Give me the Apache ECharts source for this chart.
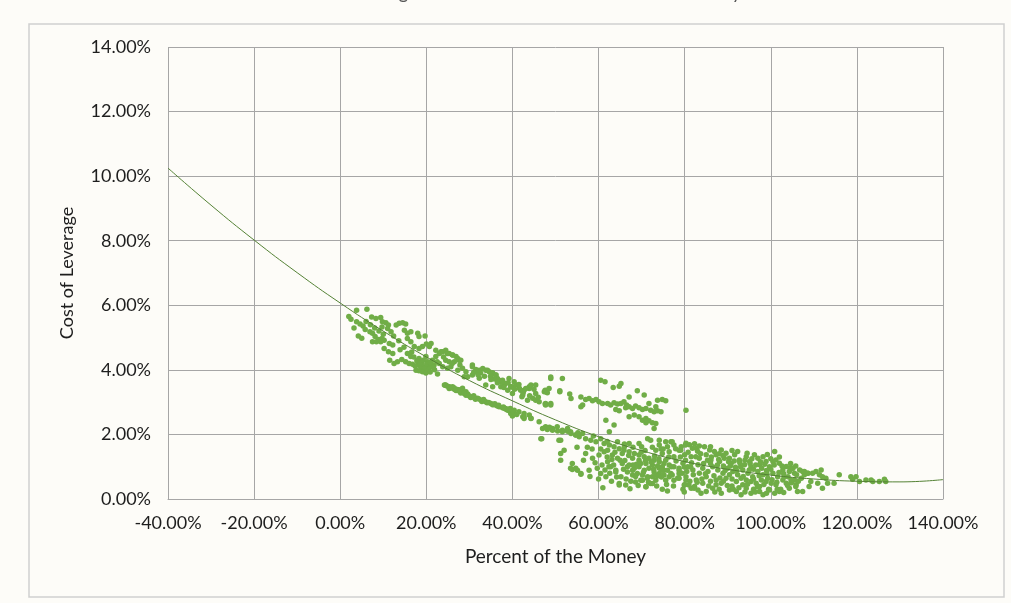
<!DOCTYPE html>
<html>
<head>
<meta charset="utf-8">
<script src="https://cdn.jsdelivr.net/npm/echarts@6/dist/echarts.min.js"></script>
<style>
  html, body { margin: 0; padding: 0; background: #fdfcf8; }
  #chart { width: 1011px; height: 603px; }
</style>
</head>
<body>
<div id="chart"></div>
<script>
// x = percent of the money, y = cost of leverage (both in %)
const xTicks = [-40, -20, 0, 20, 40, 60, 80, 100, 120, 140]
const yTicks = [0, 2, 4, 6, 8, 10, 12, 14]

// upper scatter band, 0% - 30%
const upperBand = [
  [3.8,5.85],[6.2,5.88],[2.5,5.57],[3.8,5.49],[4.6,5.42],[5.3,5.36],[5.8,5.25],[7.3,5.64],[8.3,5.59],[9.4,5.62],
  [9.8,5.49],[10.6,5.46],[11.2,5.39],[9.7,5.33],[11.0,5.28],[11.8,5.18],[13.0,5.39],[13.7,5.44],[14.5,5.46],[15.2,5.42],
  [6.9,5.18],[7.5,5.13],[8.1,5.03],[8.9,4.94],[9.7,4.97],[10.2,4.92],[7.5,4.87],[8.4,4.87],[9.4,4.87],[11.4,4.82],
  [12.2,4.77],[10.2,4.66],[11.2,4.56],[12.2,4.51],[11.5,4.30],[12.5,4.20],[13.3,4.25],[14.9,5.23],[15.6,5.13],[16.4,5.18],
  [15.6,4.97],[16.4,4.87],[18.0,5.13],[18.3,5.03],[19.7,5.05],[17.2,4.72],[18.3,4.66],[19.1,4.72],[20.0,4.80],[20.7,4.72],
  [21.1,4.82],[15.6,4.51],[16.4,4.41],[15.2,4.25],[14.3,4.32],[16.0,4.20],[16.8,4.17],[18.0,4.15],[18.7,4.10],[19.1,4.05],
  [19.5,3.99],[20.3,4.10],[20.7,4.15],[21.4,4.30],[22.2,4.41],[23.0,4.51],[22.2,4.61],[23.4,4.56],[24.5,4.61],[25.3,4.51],
  [26.1,4.46],[26.9,4.41],[24.5,4.30],[25.3,4.25],[26.5,4.25],[27.6,4.30],[25.7,4.10],[24.9,4.05],[27.3,3.99],[28.4,4.05],
  [29.2,3.94],[28.8,3.79],[22.6,3.87],[18.3,4.35],[19.9,4.41],[20.3,4.25],[17.6,3.99],[18.3,3.97],[19.1,3.94],[21.8,4.15],
  [23.0,4.20],[23.8,4.10],[19.6,4.08],[20.6,4.02],[18.9,4.19],[17.4,4.12],[23.8,4.56],[24.9,4.51],[26.1,4.46],[27.3,4.35],
  [28.0,4.30],[4.2,5.05],[5.0,4.98],[13.9,4.62],[21.9,4.00],
  [17.8,4.28],[18.6,4.22],[19.3,4.30],[20.1,4.18],[20.9,4.22],[21.6,4.08],[17.1,4.40],[19.9,3.90],[20.9,3.93],[22.5,4.25],
  [16.6,4.55],[14.8,4.70],[13.6,4.90],[12.4,5.05],[6.0,5.50],[7.0,5.40],[8.0,5.30],[9.0,5.20],[10.0,5.10],[2.0,5.65],
  [3.2,5.30],[24.0,4.40],[26.0,4.20],[27.8,4.15]
]

// middle band, 30% - 50%
const middleBand = [
  [30.7,4.10],[31.5,4.01],[32.3,3.99],[33.1,4.04],[33.8,3.99],[34.6,3.94],[35.4,3.91],[36.1,3.84],[30.7,3.84],[29.6,3.79],
  [32.3,3.74],[33.8,3.53],[35.4,3.48],[36.9,3.68],[38.1,3.53],[38.9,3.37],[39.6,3.48],[40.4,3.63],[41.6,3.43],[42.7,3.37],
  [43.9,3.48],[42.2,3.17],[43.5,3.06],[44.7,3.12],[45.4,3.27],[30.7,4.15],[34.2,3.99],[36.2,3.84],[36.5,3.73],[37.3,3.48],
  [39.6,3.48],[40.0,3.27],[42.4,3.22],[43.9,3.42],[45.4,3.06],[47.8,3.32],[48.9,3.73],[51.0,3.32],[47.6,2.94],[48.9,2.96],
  [37.7,3.68],[38.4,3.58],[39.2,3.73],[40.0,3.47],[40.8,3.53],[41.9,3.37],[43.1,3.42],[44.3,3.53],[45.4,3.53],[47.4,3.32],
  [48.5,3.42],[48.9,3.78],[51.6,3.73],[47.7,2.96],[48.9,2.91],[47.6,3.37],[48.1,3.29],[51.0,3.35],[53.3,3.25],[53.6,3.11],
  [46.2,3.01],[47.7,2.91],[31.8,3.95],[34.9,3.80],[37.6,3.62],[32.6,3.90],[35.8,3.72],
  [31.0,3.92],[32.0,3.85],[33.5,3.80],[35.0,3.70],[36.5,3.60],[38.0,3.45],[39.0,3.60],[40.5,3.40],[41.5,3.55],[42.5,3.30],
  [44.0,3.20],[45.0,3.40],[46.0,3.15]
]

// lower band, 24% - 45%
const lowerBand = [
  [24.5,3.53],[26.1,3.48],[27.2,3.39],[28.4,3.32],[29.6,3.25],[30.7,3.17],[31.9,3.12],[32.7,3.06],[33.8,3.01],[35.0,2.96],
  [36.1,2.91],[36.9,2.86],[38.1,2.81],[38.9,2.75],[39.6,2.65],[40.0,2.57],[42.7,2.55],[44.3,2.50],[24.4,3.52],[25.5,3.46],
  [26.5,3.40],[27.5,3.35],[28.4,3.43],[29.2,3.32],[25.3,3.42],[26.9,3.36],[28.0,3.28],[29.2,3.21],[30.3,3.14],[31.4,3.09],
  [32.9,3.02],[34.1,2.98],[35.4,2.92],[36.5,2.88],[37.7,2.83],[38.5,2.78],[39.5,2.80],[38.4,2.80],[39.2,2.75],[40.4,2.75],
  [41.5,2.70],[42.7,2.65],[43.9,2.60],[24.2,3.53],[25.3,3.48],[26.5,3.44],[27.6,3.38],[31.0,3.20],[33.3,3.08],[35.9,2.95],
  [42.4,2.55],[42.7,2.49],[44.3,2.49],[46.2,2.39],
  [24.8,3.50],[25.8,3.44],[26.8,3.38],[27.8,3.34],[28.8,3.27],[29.9,3.20],[31.1,3.15],[32.2,3.10],[33.3,3.05],[34.5,2.99],
  [35.6,2.93],[36.8,2.90],[37.9,2.85],[39.0,2.78],[40.2,2.70],[41.0,2.62]
]

// island around 60% - 75%, 2.2% - 3.7%
const island = [
  [55.9,3.16],[57.0,3.08],[57.8,3.11],[58.6,3.04],[59.4,3.08],[55.9,2.86],[56.3,2.91],[60.5,3.68],[61.5,3.63],[63.4,3.45],
  [64.8,3.49],[65.2,3.58],[67.1,3.16],[69.0,3.35],[70.6,3.22],[73.7,3.06],[74.8,3.08],[75.6,3.04],[60.1,3.01],[60.9,2.96],
  [62.1,2.96],[62.8,2.91],[63.6,2.98],[64.4,2.94],[65.2,2.96],[65.9,3.01],[66.5,2.91],[64.0,2.77],[64.8,2.73],[66.3,2.83],
  [67.1,2.86],[67.9,2.80],[68.6,2.88],[69.4,2.83],[70.2,2.77],[71.0,2.80],[72.1,2.75],[72.9,2.70],[73.7,2.73],[74.5,2.70],
  [73.3,2.86],[71.7,2.96],[67.1,2.55],[68.3,2.60],[69.4,2.55],[70.2,2.44],[71.0,2.49],[71.7,2.42],[72.5,2.36],[71.0,2.36],
  [72.9,2.18],[73.3,2.34],[80.3,2.75],[61.7,2.44],[63.6,2.29],[62.5,2.08]
]

// main cloud 46% - 80%
const midCloud = [
  [47.0,2.18],[48.1,2.15],[49.3,2.13],[50.5,2.11],[51.6,2.08],[52.8,2.10],[53.6,2.03],[54.7,1.98],[55.5,1.93],[56.3,2.03],
  [57.0,1.87],[58.2,1.82],[59.4,1.77],[60.5,1.87],[61.3,1.72],[62.5,1.67],[63.6,1.62],[64.8,1.56],[65.9,1.51],[67.1,1.46],
  [68.3,1.41],[69.4,1.36],[70.6,1.31],[71.7,1.26],[72.9,1.20],[74.1,1.15],[75.2,1.10],[76.4,1.05],[77.5,1.00],[78.7,0.95],
  [46.8,1.87],[50.8,1.82],[52.0,1.51],[51.2,1.20],[53.9,1.10],[53.9,0.91],[55.1,0.89],[55.9,0.77],[57.8,0.89],[57.0,1.41],
  [58.6,1.26],[60.1,1.36],[61.3,1.46],[62.1,1.15],[62.8,1.00],[64.0,0.89],[65.2,0.69],[64.8,0.43],[61.7,0.69],[60.5,0.79],
  [59.7,0.95],[66.7,1.00],[67.9,0.89],[69.0,0.79],[69.8,0.58],[71.0,0.38],[72.1,0.48],[73.3,0.58],[74.1,0.79],[75.2,0.89],
  [76.4,0.69],[77.5,0.58],[78.7,0.79],[79.9,0.43],[80.3,0.58],[67.1,1.05],[68.3,0.95],[69.4,1.00],[70.6,0.89],[71.7,0.95],
  [72.9,0.84],[74.1,0.95],[75.2,0.74],[76.0,0.89],[76.8,0.79],[70.2,0.74],[71.4,0.69],[72.5,0.69],[73.7,0.71],[67.9,0.74],
  [66.7,0.84],[65.5,1.10],[64.4,1.26],[63.2,1.36],[62.1,1.51],[65.5,1.41],[67.9,1.26],[69.4,1.20],[71.0,1.10],[72.5,1.05],
  [73.7,1.02],[74.8,1.00],[75.6,1.20],[76.8,1.77],[77.5,1.67],[77.9,1.56],[78.7,1.51],[76.0,1.62],[74.1,1.67],[71.4,1.87],
  [69.4,1.72],[67.1,1.72],[64.4,1.77],[72.1,1.82],[74.1,1.82],[75.6,1.77],[77.1,1.77],[73.3,1.51],[74.8,1.41],[76.4,1.46],
  [77.5,1.31],[78.7,0.89],[77.1,0.74],[74.8,0.89],[73.3,0.74],[71.3,0.64],[70.2,0.58],[72.5,0.48],[75.6,0.58],[78.7,0.64],
  [71.0,0.38],[68.6,0.53],[66.3,0.43],[64.8,0.48],[64.0,0.84],[62.4,1.00],[47.7,2.24],[49.3,2.18],[50.4,2.24],[51.6,2.13],
  [52.8,2.18],[53.5,2.08],[54.7,1.98],[46.6,1.87],[51.2,1.82],[51.2,1.41],[53.5,0.95],[54.7,0.95],[55.9,0.79],[48.6,2.22],
  [55.2,2.05],[58.8,1.95],[62.0,1.78],[66.0,1.62],[69.9,1.45],[73.0,1.33],[68.8,1.08],[70.9,1.19],[66.1,1.19],[63.1,1.22],
  [58.5,1.55],[59.2,1.12],[60.0,0.62],[60.8,1.05],[61.5,0.90],[62.0,1.30],[63.0,0.55],[63.5,1.05],[64.2,0.68],[65.0,1.20],
  [65.8,0.92],[66.4,0.62],[67.0,1.35],[67.5,0.55],[68.0,1.05],[68.6,0.70],[69.2,0.42],[69.8,1.10],[70.4,0.82],[70.8,1.50],
  [71.6,0.52],[72.2,1.15],[72.8,0.92],[73.5,0.40],[74.0,1.25],[74.6,0.68],[75.0,1.55],[75.8,0.45],[76.3,1.30],[76.9,1.00],
  [77.4,0.40],[78.0,1.18],[78.4,0.65],[79.0,1.30],[79.4,0.80],[79.6,0.30],[66.0,1.70],[68.0,1.60],[70.0,1.62],[72.5,1.60],
  [74.5,1.55],[60.5,1.55],[63.8,1.45],[57.4,1.60],[55.0,1.60],[56.5,1.20],[58.0,0.70],[61.0,0.35],[62.6,0.80],[67.3,0.32],
  [74.8,0.30],[76.0,0.25]
]

// dense cloud 79% - 110%
const denseCloud = [
  [79.2,1.62],[80.3,1.73],[81.1,1.68],[82.3,1.71],[82.7,1.57],[83.4,1.64],[84.6,1.62],[85.8,1.52],[86.9,1.47],[87.3,1.37],
  [88.5,1.52],[89.6,1.42],[90.4,1.26],[91.6,1.37],[92.3,1.47],[92.7,1.21],[94.3,1.31],[95.1,1.16],[96.2,1.37],[97.0,1.26],
  [98.2,1.31],[98.9,1.16],[100.9,1.47],[101.2,1.21],[102.0,1.11],[103.6,1.01],[105.1,0.95],[106.7,0.90],[107.8,0.85],[108.6,0.80],
  [79.6,1.11],[80.7,1.00],[81.9,0.90],[83.1,1.06],[84.2,0.95],[85.4,0.85],[86.5,1.00],[87.7,0.90],[88.9,0.80],[90.0,0.95],
  [91.2,0.85],[92.3,0.75],[93.5,0.90],[94.7,0.80],[95.8,0.69],[97.0,0.85],[98.2,0.75],[99.3,0.64],[100.5,0.80],[101.6,0.69],
  [102.8,0.59],[104.0,0.69],[105.5,0.59],[107.1,0.64],[80.3,0.69],[82.7,0.59],[85.0,0.69],[87.3,0.59],[89.6,0.64],[92.0,0.54],
  [94.3,0.59],[96.6,0.49],[98.9,0.54],[101.2,0.44],[103.6,0.49],[105.9,0.44],[80.0,0.44],[81.5,0.33],[83.1,0.28],[85.0,0.23],
  [86.5,0.33],[88.5,0.18],[90.4,0.28],[92.0,0.23],[93.1,0.13],[94.3,0.33],[95.4,0.18],[97.4,0.23],[98.2,0.13],[99.7,0.28],
  [100.9,0.18],[102.0,0.23],[104.3,0.33],[82.3,0.39],[87.3,0.44],[93.5,0.44],[97.4,0.39],[80.0,1.37],[81.5,1.31],[83.4,1.26],
  [85.0,1.37],[86.1,1.21],[88.1,1.16],[89.2,1.26],[90.8,1.11],[93.9,1.06],[95.4,1.00],[97.4,1.06],[99.7,1.00],[100.5,1.16],
  [102.8,0.90],[104.3,0.85],[83.4,0.80],[90.4,0.75],[93.1,0.64],[97.8,0.59],[100.1,0.49],[95.4,0.54],[88.5,0.49],[84.2,0.49],
  [81.8,1.57],[80.2,1.67],[79.1,1.51],[80.2,1.20],[81.4,0.99],[82.6,1.31],[79.9,0.99],[81.0,0.43],[82.2,0.33],[79.9,0.22],
  [86.0,1.10],[89.0,1.02],[91.8,0.98],[96.0,0.92],[99.0,0.88],[84.0,0.62],[91.0,0.40],[96.0,0.30],[88.0,0.30],[103.0,0.78],
  [80.8,1.45],[81.6,1.12],[82.0,0.75],[82.9,0.52],[83.7,1.40],[84.4,1.10],[84.8,0.78],[85.6,0.40],[86.2,1.30],[86.8,0.72],
  [87.6,1.05],[88.2,0.65],[88.9,1.35],[89.4,0.88],[89.9,0.42],[90.6,1.02],[91.0,0.62],[91.5,1.18],[92.1,0.88],[92.6,0.35],
  [93.0,1.00],[93.6,0.70],[94.0,1.20],[94.6,0.46],[95.0,0.90],[95.6,1.25],[96.0,0.62],[96.5,1.05],[96.9,0.38],[97.3,0.72],
  [97.9,0.95],[98.4,0.45],[98.6,1.08],[99.1,0.78],[99.5,0.30],[100.0,0.92],[100.3,0.60],[100.8,1.05],[101.4,0.52],[101.9,0.82],
  [102.3,0.30],[102.6,1.02],[103.1,0.68],[103.9,0.42],[104.5,0.95],[104.8,0.50],[106.0,0.75],[106.4,0.55],[80.5,0.85],[81.2,0.55],
  [83.8,0.18],[86.0,0.55],[87.0,0.22],[89.0,0.55],[91.3,0.30],[94.0,0.22],[96.4,0.22],[99.0,0.18],[101.5,0.30],[103.0,0.20],
  [85.3,1.20],[87.9,1.22],[90.2,1.15],[92.8,1.12],[95.2,1.10],[97.6,1.15],[100.0,1.25],[102.0,1.30],[104.6,1.10],[105.8,1.02],
  [83.0,1.48],[86.0,1.62],[88.0,1.40],[91.0,1.50],[94.5,1.42],[99.2,1.38]
]

// tail beyond 104%
const tail = [
  [105.1,0.95],[105.5,0.80],[104.7,0.59],[105.8,0.39],[107.4,0.85],[107.8,0.75],[108.6,0.80],[109.7,0.80],[110.5,0.85],[111.7,0.90],
  [111.3,0.75],[112.0,0.69],[112.8,0.64],[110.9,0.49],[109.3,0.54],[108.9,0.39],[112.0,0.33],[113.2,0.49],[114.7,0.49],[115.9,0.75],
  [118.6,0.69],[119.0,0.61],[119.8,0.69],[120.6,0.54],[122.1,0.59],[123.3,0.59],[123.7,0.54],[125.2,0.54],[126.4,0.61],[126.7,0.54],
  [107.4,0.23],[106.2,0.23]
]

// trendline
const trendX = [-40, -30, -20, -10, 0, 10, 20, 30, 40, 50, 60, 70, 80, 90, 100, 110, 120, 130, 140]
const trendY = [10.25, 9.10, 8.02, 7.01, 6.07, 5.20, 4.40, 3.67, 3.04, 2.45, 1.93, 1.50, 1.16, 0.92, 0.74, 0.62, 0.55, 0.53, 0.60]

const points = [].concat(upperBand, middleBand, lowerBand, island, midCloud, denseCloud, tail)
const trend = trendX.map((x, i) => [x, trendY[i]])

const chart = echarts.init(document.getElementById('chart'), null, { renderer: 'canvas' })
const font = 'Lato'
const pct = v => v.toFixed(2) + '%'

chart.setOption({
  backgroundColor: '#fdfcf8',
  animation: false,
  // title sits above the visible frame, only its descenders show
  title: {
    text: 'Cost of Leverage as a Function of Percent of the Money',
    left: 505,
    top: -22,
    textAlign: 'center',
    textStyle: { fontFamily: font, fontSize: 19, fontWeight: 'normal', color: '#595959' }
  },
  graphic: [{
    type: 'rect',
    shape: { x: 29, y: 24, width: 975, height: 573 },
    style: { fill: 'none', stroke: '#d0d0d0', lineWidth: 1.5 },
    z: -1
  }],
  grid: { left: 168, right: 68, top: 47, bottom: 104 },
  xAxis: {
    type: 'value',
    min: -40, max: 140, interval: 20,
    name: 'Percent of the Money',
    nameLocation: 'middle',
    nameGap: 48,
    nameTextStyle: { fontFamily: font, fontSize: 19, color: '#1e1e1e' },
    axisLine: { show: true, onZero: false, lineStyle: { color: '#a6a6a6' } },
    axisTick: { show: false },
    axisLabel: { margin: 15, formatter: pct, fontFamily: font, fontSize: 18, color: '#1e1e1e' },
    splitLine: { lineStyle: { color: '#a6a6a6', width: 1 } }
  },
  yAxis: {
    type: 'value',
    min: 0, max: 14, interval: 2,
    name: 'Cost of Leverage',
    nameLocation: 'middle',
    nameGap: 92,
    nameTextStyle: { fontFamily: font, fontSize: 18, color: '#1e1e1e' },
    axisLine: { show: false },
    axisTick: { show: false },
    axisLabel: { margin: 17, formatter: pct, fontFamily: font, fontSize: 18, color: '#1e1e1e' },
    splitLine: { lineStyle: { color: '#a6a6a6', width: 1 } }
  },
  series: [
    {
      name: 'Cost of Leverage',
      type: 'scatter',
      symbolSize: 5.5,
      itemStyle: { color: '#70ad47', opacity: 1 },
      data: points
    },
    {
      name: 'Trend',
      type: 'line',
      smooth: true,
      symbol: 'none',
      lineStyle: { color: '#548235', width: 1 },
      data: trend
    }
  ]
})
</script>
</body>
</html>
